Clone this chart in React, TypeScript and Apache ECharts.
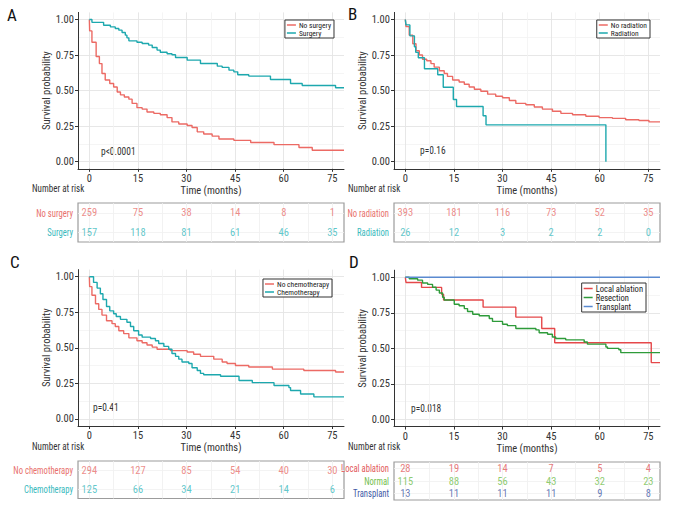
import React, { useEffect, useRef } from "react";
import * as echarts from "echarts";

const FONT = "'Roboto Condensed', 'DejaVu Sans Condensed', 'Liberation Sans', sans-serif";
const SQUEEZE = 0.82;
const INK = "#333";

const X_TICKS = [0, 15, 30, 45, 60, 75];
const X_MINOR = [7.5, 22.5, 37.5, 52.5, 67.5];
const X_TABLE_LINES = [0, 7.5, 15, 22.5, 30, 37.5, 45, 52.5, 60, 67.5, 75];
const Y_TICKS = [0, 0.25, 0.5, 0.75, 1];
const Y_MINOR = [0.125, 0.375, 0.625, 0.875];

// Panel A
const A_NO_SURGERY = [[0,1],[0.1,0.92],[0.8,0.84],[2.1,0.74],[3.1,0.69],[3.9,0.62],[4.9,0.575],[6.3,0.55],[7.5,0.525],[8.6,0.49],[9.6,0.47],[10.8,0.455],[12.2,0.44],[13.2,0.41],[14.7,0.38],[16.3,0.37],[17.8,0.35],[19.9,0.34],[21.9,0.33],[24.0,0.31],[25.5,0.28],[27.6,0.265],[30.2,0.255],[31.7,0.24],[33.3,0.21],[35.3,0.195],[37.9,0.18],[40.0,0.16],[44.6,0.15],[49.8,0.135],[57.0,0.12],[64.7,0.10],[68.8,0.08],[78.6,0.08]];
const A_SURGERY = [[0,1],[0.8,0.98],[4.4,0.96],[6.5,0.948],[8.0,0.937],[9.1,0.925],[10.1,0.909],[11.1,0.89],[11.6,0.871],[12.2,0.85],[14.7,0.84],[16.3,0.831],[18.3,0.82],[19.4,0.803],[20.9,0.785],[21.9,0.77],[24.0,0.759],[25.5,0.752],[26.6,0.733],[30.2,0.714],[34.3,0.691],[39.5,0.672],[41.0,0.663],[43.1,0.644],[44.6,0.632],[45.8,0.611],[49.2,0.602],[55.9,0.578],[62.1,0.55],[65.7,0.536],[76.0,0.52],[78.6,0.52]];
const A_RISK_NO_SURGERY = [259, 75, 38, 14, 8, 1];
const A_RISK_SURGERY = [157, 118, 81, 61, 46, 35];

// Panel B
const B_NO_RADIATION = [[0,1],[0.2,0.95],[1.2,0.89],[2.3,0.83],[3.3,0.78],[4.3,0.75],[5.3,0.72],[6.6,0.71],[7.9,0.69],[8.9,0.665],[10.5,0.64],[12.0,0.62],[13.0,0.60],[14.6,0.575],[16.6,0.56],[18.2,0.545],[19.7,0.525],[21.3,0.51],[23.3,0.495],[25.4,0.475],[27.9,0.46],[30.0,0.45],[32.1,0.43],[34.1,0.41],[37.2,0.40],[39.8,0.385],[42.3,0.37],[45.4,0.355],[48.0,0.34],[51.6,0.33],[55.7,0.32],[59.8,0.31],[63.9,0.305],[68.0,0.295],[72.1,0.29],[75.2,0.28],[78.6,0.28]];
const B_RADIATION = [[0,1],[0.2,0.962],[1.4,0.885],[2.8,0.808],[3.2,0.769],[4.0,0.731],[5.9,0.654],[10.0,0.611],[11.7,0.524],[14.8,0.437],[15.8,0.388],[24.0,0.323],[24.9,0.259],[61.9,0]];
const B_RISK_NO_RADIATION = [393, 181, 116, 73, 52, 35];
const B_RISK_RADIATION = [26, 12, 3, 2, 2, 0];

// Panel C
const C_NO_CHEMO = [[0,1],[0.1,0.93],[0.8,0.87],[1.9,0.81],[2.9,0.77],[3.9,0.73],[5.3,0.69],[7.0,0.67],[8.0,0.65],[9.1,0.62],[10.6,0.60],[12.2,0.57],[14.7,0.55],[16.3,0.535],[17.8,0.52],[19.4,0.505],[20.9,0.49],[25.0,0.48],[30.2,0.47],[32.2,0.455],[34.3,0.44],[38.4,0.42],[41.0,0.40],[42.5,0.39],[45.1,0.375],[49.2,0.365],[56.5,0.35],[66.2,0.34],[76.0,0.33],[78.6,0.33]];
const C_CHEMO = [[0,1],[1.3,0.96],[2.4,0.92],[3.4,0.88],[4.2,0.84],[5.3,0.79],[6.3,0.76],[7.5,0.74],[8.3,0.72],[9.6,0.70],[11.6,0.68],[12.7,0.65],[13.7,0.62],[15.2,0.59],[16.3,0.575],[18.9,0.565],[20.4,0.55],[21.4,0.53],[23.0,0.51],[24.5,0.49],[25.5,0.46],[26.6,0.44],[27.6,0.42],[28.6,0.40],[30.7,0.39],[31.7,0.36],[33.3,0.34],[34.3,0.32],[35.3,0.31],[40.5,0.30],[46.2,0.27],[50.3,0.255],[57.0,0.235],[61.6,0.22],[62.1,0.20],[65.2,0.175],[69.3,0.155],[78.6,0.155]];
const C_RISK_NO_CHEMO = [294, 127, 85, 54, 40, 30];
const C_RISK_CHEMO = [125, 66, 34, 21, 14, 6];

// Panel D
const D_LOCAL = [[0,1],[0.2,0.964],[5.0,0.929],[11.2,0.88],[11.8,0.84],[24.0,0.79],[34.1,0.72],[42.1,0.64],[46.1,0.54],[75.9,0.40],[78.6,0.40]];
const D_RESECTION = [[0,1],[1.2,0.99],[3.8,0.98],[5.3,0.96],[6.9,0.95],[8.4,0.93],[9.5,0.91],[10.5,0.89],[11.5,0.86],[12.0,0.84],[15.1,0.81],[16.6,0.80],[18.2,0.78],[19.2,0.76],[20.8,0.74],[22.8,0.73],[25.9,0.71],[26.9,0.69],[30.0,0.67],[31.5,0.66],[34.1,0.64],[40.3,0.63],[41.3,0.61],[43.9,0.60],[45.4,0.58],[46.4,0.57],[49.5,0.56],[55.2,0.545],[56.2,0.53],[61.9,0.51],[62.4,0.50],[65.9,0.49],[66.5,0.47],[78.6,0.47]];
const D_TRANSPLANT = [[0,1],[78.6,1]];
const D_RISK_LOCAL = [28, 19, 14, 7, 5, 4];
const D_RISK_NORMAL = [115, 88, 56, 43, 32, 23];
const D_RISK_TRANSPLANT = [13, 11, 11, 11, 9, 8];

const X_MIN = -3.5, X_MAX = 78.6, Y_MIN = -0.05, Y_MAX = 1.05;
const PLOT_W = 266, PLOT_H = 156.4;

const RED = "#EC6A64", TEAL = "#1DA8AE";
const RED_T = "#E8706C", TEAL_T = "#38B9BD";

const PANELS = [
  {
    letter: "A", lx: 7, ly: 6, left: 78, top: 12.4, tableTop: 203, tableH: 39,
    curves: [{ name: "No surgery", data: A_NO_SURGERY, color: RED }, { name: "Surgery", data: A_SURGERY, color: TEAL }],
    rows: [{ name: "No surgery", values: A_RISK_NO_SURGERY, color: RED_T }, { name: "Surgery", values: A_RISK_SURGERY, color: TEAL_T }],
    legend: { right: 346, top: 20, fs: 7.5, lh: 7.8 }, p: "p<0.0001", px: 101, py: 151, narX: 32, narY: 188,
  },
  {
    letter: "B", lx: 348, ly: 5, left: 394, top: 12.4, tableTop: 203, tableH: 39,
    curves: [{ name: "No radiation", data: B_NO_RADIATION, color: RED }, { name: "Radiation", data: B_RADIATION, color: TEAL }],
    rows: [{ name: "No radiation", values: B_RISK_NO_RADIATION, color: RED_T }, { name: "Radiation", values: B_RISK_RADIATION, color: TEAL_T }],
    legend: { right: 30, top: 20, fs: 7.5, lh: 7.8 }, p: "p=0.16", px: 420, py: 150, narX: 348, narY: 188,
  },
  {
    letter: "C", lx: 10, ly: 253, left: 78, top: 269.6, tableTop: 461, tableH: 37.5,
    curves: [{ name: "No chemotherapy", data: C_NO_CHEMO, color: RED }, { name: "Chemotherapy", data: C_CHEMO, color: TEAL }],
    rows: [{ name: "No chemotherapy", values: C_RISK_NO_CHEMO, color: RED_T }, { name: "Chemotherapy", values: C_RISK_CHEMO, color: TEAL_T }],
    legend: { right: 348, top: 279, fs: 7.5, lh: 7 }, p: "p=0.41", px: 93, py: 407, narX: 32, narY: 446,
  },
  {
    letter: "D", lx: 349, ly: 253, left: 394, top: 270.2, tableTop: 462, tableH: 38,
    curves: [
      { name: "Local ablation", data: D_LOCAL, color: "#E5484A" },
      { name: "Resection", data: D_RESECTION, color: "#2E9B3A" },
      { name: "Transplant", data: D_TRANSPLANT, color: "#5A8AD0" },
    ],
    rows: [
      { name: "Local ablation", values: D_RISK_LOCAL, color: "#E2585A" },
      { name: "Normal", values: D_RISK_NORMAL, color: "#72BE4C" },
      { name: "Transplant", values: D_RISK_TRANSPLANT, color: "#3F5AA6" },
    ],
    legend: { right: 34, top: 283, fs: 8.5, lh: 7.3 }, p: "p=0.018", px: 411, py: 408, narX: 348, narY: 446,
  },
];

function sqText(x: number, y: number, text: string, fill: string, fontSize: number, align: string) {
  return { type: "text", x, y, scaleX: SQUEEZE, silent: true,
    style: { text, fill, fontFamily: FONT, fontSize, align, verticalAlign: "middle" } };
}

function buildOption() {
  const grid: any[] = [], xAxis: any[] = [], yAxis: any[] = [], series: any[] = [], legend: any[] = [], graphic: any[] = [];
  PANELS.forEach((P) => {
    const gP = grid.length;
    grid.push({ left: P.left, top: P.top, width: PLOT_W, height: PLOT_H });
    const gT = grid.length;
    grid.push({ left: P.left, top: P.tableTop, width: PLOT_W, height: P.tableH, show: true, borderColor: "#9c9c9c", borderWidth: 1.2, backgroundColor: "#fff" });

    xAxis.push({ type: "value", gridIndex: gP, min: X_MIN, max: X_MAX, position: "top",
      axisLine: { show: false }, axisTick: { show: false, customValues: X_MINOR }, axisLabel: { show: false, customValues: X_MINOR },
      splitLine: { show: true, lineStyle: { color: "#F3F3F3", width: 0.8 } } });
    const xMain = xAxis.length;
    xAxis.push({ type: "value", gridIndex: gP, min: X_MIN, max: X_MAX, position: "bottom",
      name: "Time (months)", nameLocation: "middle", nameGap: 13.5,
      nameTextStyle: { fontFamily: FONT, fontSize: 10.5, color: INK },
      axisLine: { show: true, onZero: false, lineStyle: { color: "#333", width: 1 } },
      axisTick: { show: true, length: 3, customValues: X_TICKS, lineStyle: { color: "#333" } },
      axisLabel: { customValues: X_TICKS, margin: 4, fontFamily: FONT, fontSize: 10.5, color: INK },
      splitLine: { show: true, lineStyle: { color: "#E4E4E4", width: 0.9 } } });
    const xTab = xAxis.length;
    xAxis.push({ type: "value", gridIndex: gT, min: X_MIN, max: X_MAX,
      axisLine: { show: false }, axisTick: { show: false, customValues: X_TABLE_LINES }, axisLabel: { show: false, customValues: X_TABLE_LINES },
      splitLine: { show: true, lineStyle: { color: "#EFEFEF", width: 0.8 } } });

    yAxis.push({ type: "value", gridIndex: gP, min: Y_MIN, max: Y_MAX, position: "right",
      axisLine: { show: false }, axisTick: { show: false, customValues: Y_MINOR }, axisLabel: { show: false, customValues: Y_MINOR },
      splitLine: { show: true, lineStyle: { color: "#F3F3F3", width: 0.8 } } });
    const yMain = yAxis.length;
    yAxis.push({ type: "value", gridIndex: gP, min: Y_MIN, max: Y_MAX, position: "left",
      name: "Survival probability", nameLocation: "middle", nameGap: 23, nameRotate: 90,
      nameTextStyle: { fontFamily: FONT, fontSize: 10.5, color: INK },
      axisLine: { show: true, onZero: false, lineStyle: { color: "#333", width: 1 } },
      axisTick: { show: true, length: 3, customValues: Y_TICKS, lineStyle: { color: "#333" } },
      axisLabel: { customValues: Y_TICKS, margin: 4, fontFamily: FONT, fontSize: 10.5, color: INK, formatter: (v: number) => v.toFixed(2) },
      splitLine: { show: true, lineStyle: { color: "#E4E4E4", width: 0.9 } } });
    const yTab = yAxis.length;
    yAxis.push({ type: "category", gridIndex: gT, inverse: true, data: P.rows.map((r) => r.name),
      axisLine: { show: false }, axisTick: { show: true, alignWithLabel: true, length: 2.5, lineStyle: { color: "#777" } },
      axisLabel: { show: false }, splitLine: { show: false } });

    P.curves.forEach((c) => {
      series.push({ type: "line", name: c.name, xAxisIndex: xMain, yAxisIndex: yMain, data: c.data, step: "end",
        showSymbol: false, symbol: "none", lineStyle: { color: c.color, width: 1.4 }, itemStyle: { color: c.color }, z: 5, clip: true });
    });
    const n = P.rows.length;
    P.rows.forEach((r, ri) => {
      series.push({ type: "scatter", name: r.name + " (at risk)", xAxisIndex: xTab, yAxisIndex: yTab, symbolSize: 1,
        itemStyle: { color: "rgba(0,0,0,0)" },
        data: r.values.map((v, i) => [X_TICKS[i], r.name, v]),
        label: { show: true, position: "inside", formatter: (p: any) => String(p.value[2]), color: r.color, fontFamily: FONT, fontSize: 10.5 },
        markLine: { silent: true, symbol: "none", label: { show: false }, lineStyle: { color: "#F0F0F0", width: 0.8, type: "solid" }, data: [{ yAxis: r.name }] },
        z: 5 });
      graphic.push(sqText(P.left - 5, P.tableTop + ((ri + 0.5) * P.tableH) / n, r.name, r.color, 10.5, "right"));
    });

    legend.push({ right: P.legend.right, top: P.legend.top, orient: "vertical", data: P.curves.map((c) => c.name),
      itemGap: 0, itemWidth: 9, itemHeight: 1.5, icon: "rect", padding: [1, 3, 1, 2],
      borderColor: "#333", borderWidth: 1, backgroundColor: "#fff", borderRadius: 0,
      textStyle: { fontFamily: FONT, fontSize: P.legend.fs, color: "#222", lineHeight: P.legend.lh, padding: [0, 0, 0, -2] }, selectedMode: false });

    graphic.push({ type: "text", left: P.lx, top: P.ly, style: { text: P.letter, fontFamily: FONT, fontSize: 17, fill: "#111" } });
    graphic.push(sqText(P.px, P.py, P.p, INK, 11.5, "left"));
    graphic.push(sqText(P.narX, P.narY, "Number at risk", INK, 11, "left"));
  });
  return { animation: false, backgroundColor: "#fff", grid, xAxis, yAxis, series, legend, graphic };
}

export default function App() {
  const ref = useRef<HTMLDivElement>(null);
  useEffect(() => {
    if (!ref.current) return;
    const chart = echarts.init(ref.current, undefined, { renderer: "svg" });
    chart.setOption(buildOption() as any);
    return () => chart.dispose();
  }, []);
  return <div ref={ref} style={{ position: "fixed", left: 0, top: 0, width: 680, height: 510 }} />;
}
